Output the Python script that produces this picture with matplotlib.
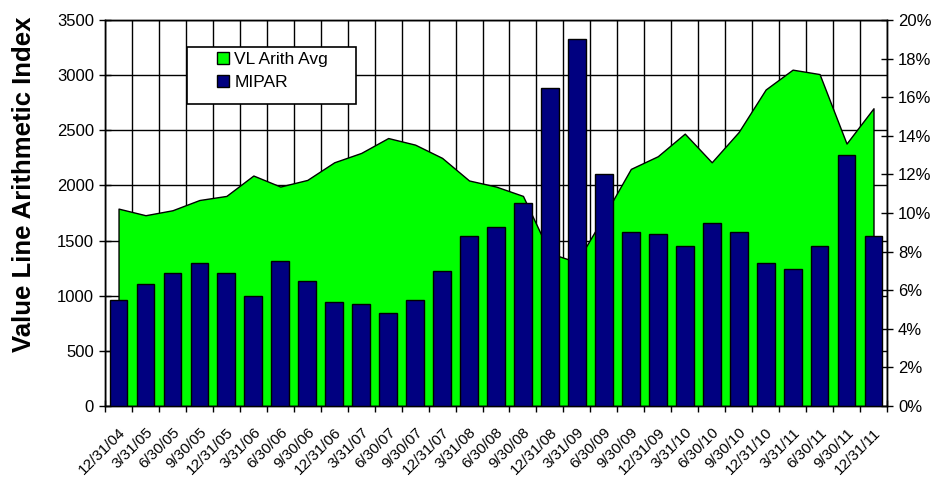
import matplotlib.pyplot as plt
from matplotlib.patches import Patch, Rectangle
from matplotlib.ticker import FuncFormatter
from matplotlib.transforms import ScaledTranslation
import numpy as np

plt.rcParams['font.family'] = ['Liberation Sans', 'DejaVu Sans']

# quarter-end dates
quarters = ["12/31/04", "3/31/05", "6/30/05", "9/30/05", "12/31/05",
            "3/31/06", "6/30/06", "9/30/06", "12/31/06",
            "3/31/07", "6/30/07", "9/30/07", "12/31/07",
            "3/31/08", "6/30/08", "9/30/08", "12/31/08",
            "3/31/09", "6/30/09", "9/30/09", "12/31/09",
            "3/31/10", "6/30/10", "9/30/10", "12/31/10",
            "3/31/11", "6/30/11", "9/30/11", "12/31/11"]

# Value Line Arithmetic Average (left axis)
vl_arith = [1790, 1730, 1775, 1868, 1905, 2090, 1990, 2050, 2210,
            2295, 2430, 2370, 2250, 2045, 1990, 1905, 1385, 1305,
            1720, 2150, 2265, 2470, 2210, 2485, 2870, 3050, 3010,
            2380, 2700]

# MIPAR in percent (right axis)
mipar = [5.5, 6.3, 6.9, 7.4, 6.9, 5.7, 7.5, 6.5, 5.4, 5.3, 4.8, 5.5,
         7.0, 8.8, 9.3, 10.5, 16.5, 19.0, 12.0, 9.0, 8.9, 8.3, 9.5,
         9.0, 7.4, 7.1, 8.3, 13.0, 8.8]

x = np.arange(len(quarters))

fig = plt.figure(figsize=(9.38, 4.78), dpi=100)
ax = fig.add_axes([0.112, 0.1506, 0.8336, 0.8075])
ax2 = ax.twinx()

# green area on the left axis, grid behind it
ax.set_axisbelow(True)
ax.fill_between(x, vl_arith, 0, facecolor='#00FF00', edgecolor='black',
                linewidth=1.0, zorder=2)
ax.set_ylim(0, 3500)
ax.set_yticks(np.arange(0, 3501, 500))
ax.set_xlim(-0.5, len(quarters) - 0.5)
ax.set_xticks(np.arange(-0.5, len(quarters), 1.0))
ax.set_xticklabels([])
ax.set_xticks(x, minor=True)
ax.set_xticklabels(quarters, minor=True, rotation=45, ha='right',
                   rotation_mode='anchor', fontsize=11)
shift = ScaledTranslation(-5 / 100, 0, fig.dpi_scale_trans)
for lbl in ax.get_xticklabels(minor=True):
    lbl.set_transform(lbl.get_transform() + shift)
ax.tick_params(axis='x', which='major', direction='inout', length=9, width=1)
ax.tick_params(axis='x', which='minor', length=0, pad=14)
ax.tick_params(axis='y', direction='inout', length=9, width=1, labelsize=12)
ax.grid(True, which='major', color='black', linewidth=1.0)
ax.set_ylabel("Value Line Arithmetic Index", fontsize=18.5, fontweight='bold')
ax.yaxis.set_label_coords(-0.088, 0.575)

# navy bars on the right axis
ax2.bar(x, np.array(mipar) / 100, width=0.66, color='#000080',
        edgecolor='black', linewidth=1.0, zorder=3)
ax2.set_ylim(0, 0.20)
ax2.set_yticks(np.arange(0, 0.201, 0.02))
ax2.yaxis.set_major_formatter(FuncFormatter(lambda v, p: f"{v * 100:.0f}%"))
ax2.tick_params(axis='y', direction='inout', length=9, width=1, labelsize=12)

for a in (ax, ax2):
    for s in a.spines.values():
        s.set_color('black')
        s.set_linewidth(1.0)

# legend with a wide Excel-style frame
ax2.add_patch(Rectangle((0.105, 0.782), 0.216, 0.148, transform=ax2.transAxes,
                        facecolor='white', edgecolor='black', linewidth=1.2,
                        zorder=5))
handles = [Patch(facecolor='#00FF00', edgecolor='black', label='VL Arith Avg'),
           Patch(facecolor='#000080', edgecolor='black', label='MIPAR')]
leg = ax2.legend(handles=handles, loc='upper left',
                 bbox_to_anchor=(0.134, 0.935), frameon=False, fontsize=12.5,
                 handlelength=0.7, handleheight=0.7, handletextpad=0.3,
                 labelspacing=0.45, borderaxespad=0)
leg.set_zorder(6)

fig.savefig("out.png", dpi=100)
